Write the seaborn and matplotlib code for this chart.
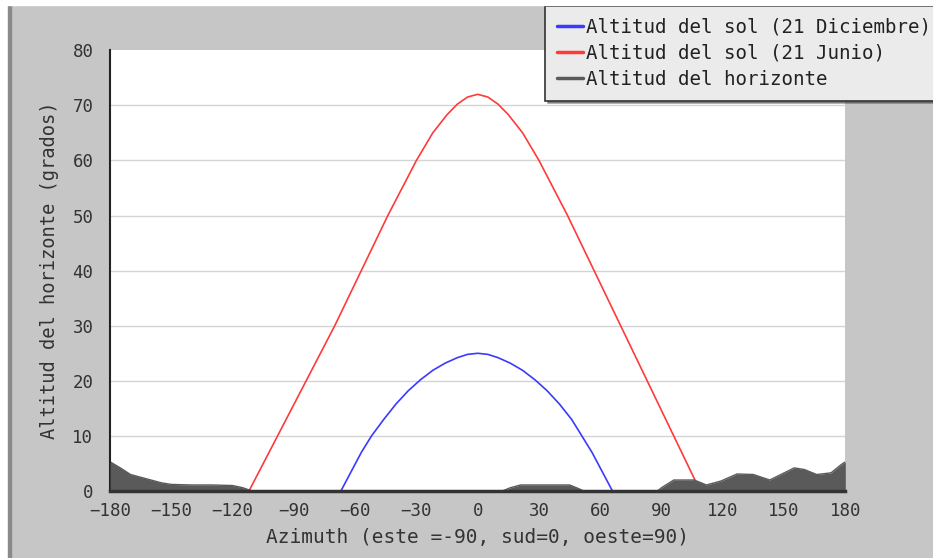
import matplotlib
matplotlib.use("Agg")
import matplotlib.pyplot as plt
import pandas as pd
import seaborn as sns
from matplotlib.patches import Rectangle

# sun path on 21 December
dic_az = [-67, -62, -57, -52, -46, -40, -34, -28, -22, -16, -10, -5, 0,
          5, 10, 16, 22, 28, 34, 40, 46, 51, 56, 61, 66]
dic_alt = [0, 3.5, 7, 10, 13, 15.8, 18.2, 20.2, 21.9, 23.2, 24.2, 24.8, 25,
           24.8, 24.2, 23.2, 21.9, 20.2, 18.2, 15.8, 13, 10, 7, 3.5, 0]

# sun path on 21 June
jun_az = [-112, -98, -84, -70, -57, -44, -30, -22, -15, -10, -5, 0,
          5, 10, 15, 22, 30, 44, 57, 70, 83, 96, 109]
jun_alt = [0, 10, 20, 30, 40, 50, 60, 65, 68.3, 70.2, 71.5, 72,
           71.5, 70.2, 68.3, 65, 60, 50, 40, 30, 20, 10, 0]

# horizon profile
hor_az = [-180, -175, -170, -165, -160, -155, -150, -140, -130, -120, -115, -112, -110,
          12, 16, 21, 30, 45, 49, 52, 88, 90, 96, 106, 112, 119, 127, 135, 143,
          155, 160, 166, 173, 178, 180]
hor_alt = [5.3, 4.2, 3.0, 2.5, 2.0, 1.5, 1.2, 1.1, 1.1, 1.0, 0.6, 0.2, 0,
           0, 0.6, 1.1, 1.1, 1.1, 0.5, 0, 0, 0.6, 2.0, 2.0, 1.1, 1.8, 3.1, 3.0, 2.0,
           4.2, 3.9, 3.0, 3.3, 4.8, 5.3]

x_ticks = [-180, -150, -120, -90, -60, -30, 0, 30, 60, 90, 120, 150, 180]
y_ticks = [0, 10, 20, 30, 40, 50, 60, 70, 80]

sns.set_style("white")
plt.rcParams["font.family"] = ["DejaVu Sans Mono", "DejaVu Sans"]
plt.rcParams["text.color"] = "#222222"

fig = plt.figure(figsize=(9.33, 5.58), dpi=100, facecolor="#c6c6c6")
ax = fig.add_axes([0.118, 0.12, 0.788, 0.79])
ax.set_facecolor("white")

# left / top border decoration
fig.patches.append(Rectangle((0, 0), 8 / 933, 1, transform=fig.transFigure,
                             color="white", zorder=0))
fig.patches.append(Rectangle((8 / 933, 0), 3 / 933, 1, transform=fig.transFigure,
                             color="#8a8a8a", zorder=0))
fig.patches.append(Rectangle((0, 1 - 5 / 558), 1, 5 / 558, transform=fig.transFigure,
                             color="white", zorder=0))

dic = pd.DataFrame({"az": dic_az, "alt": dic_alt})
jun = pd.DataFrame({"az": jun_az, "alt": jun_alt})
hor = pd.DataFrame({"az": hor_az, "alt": hor_alt})

for v in y_ticks[1:-1]:
    ax.axhline(v, color="#d4d4d4", lw=1, zorder=0)

sns.lineplot(data=dic, x="az", y="alt", color="#3a3aff", lw=1.2,
             label="Altitud del sol (21 Diciembre)", ax=ax)
sns.lineplot(data=jun, x="az", y="alt", color="#ff3a3a", lw=1.2,
             label="Altitud del sol (21 Junio)", ax=ax)
sns.lineplot(data=hor, x="az", y="alt", color="#5a5a5a", lw=1,
             label="Altitud del horizonte", ax=ax)
ax.fill_between(hor["az"], hor["alt"], 0, color="#5a5a5a", lw=0, zorder=3)

ax.set_xlim(-180, 180)
ax.set_ylim(0, 80)
ax.set_xticks(x_ticks)
ax.set_yticks(y_ticks)
ax.set_yticks(range(5, 80, 10), minor=True)
ax.tick_params(axis="both", which="major", direction="in", length=6, width=1.5,
               color="#222222", labelsize=12.5, labelcolor="#333333")
ax.tick_params(axis="y", which="major", pad=12)
ax.tick_params(axis="x", which="major", length=5, pad=8)
ax.tick_params(axis="y", which="minor", direction="in", length=4, width=1.2,
               color="#222222")

for s in ["top", "right"]:
    ax.spines[s].set_visible(False)
ax.spines["left"].set_color("#222222")
ax.spines["left"].set_linewidth(1.5)
ax.spines["bottom"].set_color("#333333")
ax.spines["bottom"].set_linewidth(2.5)
ax.spines["bottom"].set_zorder(5)

ax.set_xlabel("Azimuth (este =-90, sud=0, oeste=90)", fontsize=14, color="#333333",
              labelpad=6)
ax.set_ylabel("Altitud del horizonte (grados)", fontsize=13.5, color="#333333",
              labelpad=10)

leg = ax.legend(loc="upper left", bbox_to_anchor=(545 / 933, 1 - 6 / 558),
                bbox_transform=fig.transFigure, fontsize=13.8, frameon=True,
                fancybox=False, shadow=True, framealpha=1, handlelength=1.4,
                handletextpad=0.15, labelspacing=0.38, borderpad=0.6,
                borderaxespad=0)
leg.get_frame().set_facecolor("#ebebeb")
leg.get_frame().set_edgecolor("#333333")
leg.get_frame().set_linewidth(1.2)
for line in leg.get_lines():
    line.set_linewidth(2.5)

fig.savefig("out.png", dpi=100, facecolor=fig.get_facecolor())
